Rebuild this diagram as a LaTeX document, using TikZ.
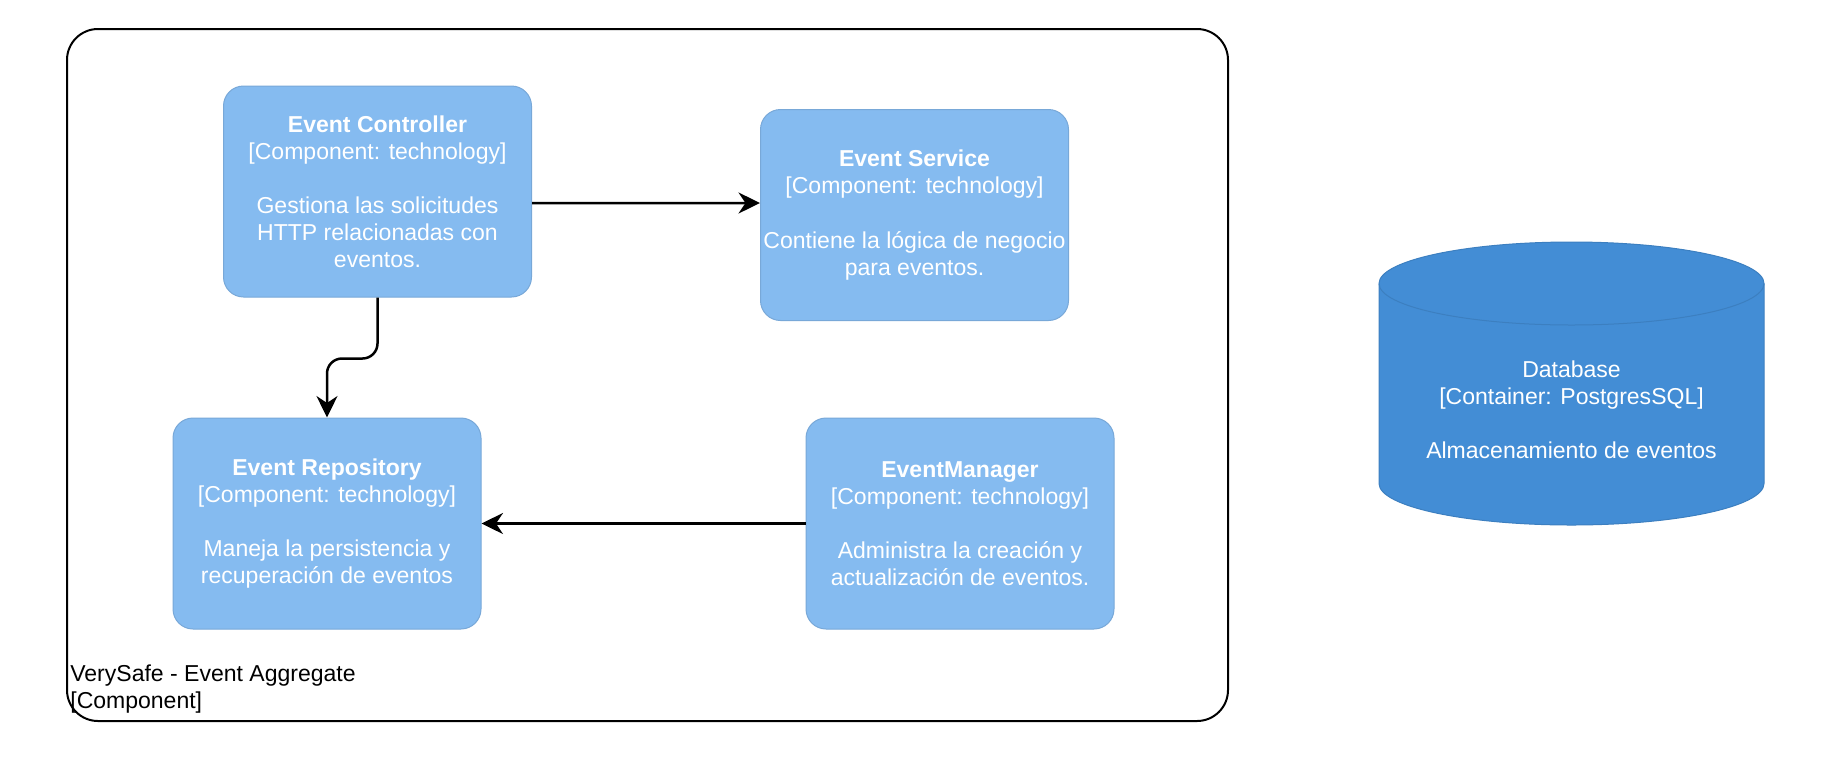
\documentclass[tikz,border=0pt]{standalone}
\usepackage{fontspec}
\setmainfont{Liberation Sans}
\usetikzlibrary{positioning, shapes.geometric, arrows.meta}

\begin{document}
\begin{tikzpicture}[
    >={Stealth[length=0.43cm, width=0.42cm, inset=0.14cm]}, % Puntas de flecha
    % --- Colores del tema C4 ---
    compFill/.style={fill={rgb,255:red,133;green,187;blue,240}, draw={rgb,255:red,120;green,168;blue,216}},
    contFill/.style={fill={rgb,255:red,67;green,141;blue,213}, draw={rgb,255:red,60;green,127;blue,192}},
    % --- Estilos de nodos ---
    base/.style={line width=0.02cm, align=center, inner sep=0pt, text=white, font=\fontsize{13.1pt}{15.4pt}\selectfont},
    component/.style={base, compFill, rounded corners=0.4cm, minimum width=6.16cm, minimum height=4.22cm},
    dbText/.style={align=center, inner sep=0pt, text=white, font=\fontsize{13.1pt}{15.4pt}\selectfont},
    dbShape/.style={contFill, line width=0.02cm},
    boundary/.style={draw=black, line width=0.04cm, rounded corners=0.62cm, minimum width=23.22cm, minimum height=13.84cm, inner sep=0pt},
    boundaryLabel/.style={align=left, inner sep=0pt, text=black, font=\fontsize{13.1pt}{15.4pt}\selectfont},
    % --- Estilo de conectores ---
    rel/.style={->, line width=0.05cm, draw=black}
]
    \useasboundingbox (0,0) rectangle (36.96,-15.38);

    % ===========================
    % 1. LIMITE DEL AGREGADO
    % ===========================
    \node[boundary] (agg) at (12.95, -7.5) {};
    \node[boundaryLabel, anchor=south west] (aggLabel) at ([xshift=0.08cm, yshift=0.16cm]agg.south west) {VerySafe - Event Aggregate\\{}[Component]};

    % ===========================
    % 2. COMPONENTES
    % ===========================
    \node[component] (ctrl) at (7.55, -3.83)  {\textbf{Event Controller}\\{}[Component: technology]\\[15.4pt]Gestiona las solicitudes\\HTTP relacionadas con\\eventos.};
    \node[component] (svc)  at (18.29, -4.30) {\textbf{Event Service}\\{}[Component: technology]\\[15.4pt]Contiene la lógica de negocio\\para eventos.};
    \node[component] (repo) at (6.54, -10.47) {\textbf{Event Repository}\\{}[Component: technology]\\[15.4pt]Maneja la persistencia y\\recuperación de eventos};
    \node[component] (mgr)  at (19.20, -10.47) {\textbf{EventManager}\\{}[Component: technology]\\[15.4pt]Administra la creación y\\actualización de eventos.};

    % ===========================
    % 3. BASE DE DATOS (cilindro)
    % ===========================
    \coordinate (dbTop) at (31.43, -5.67);
    \coordinate (dbBottom) at (31.43, -9.67);
    \draw[dbShape] ([xshift=-3.85cm]dbTop) arc[start angle=180, end angle=0, x radius=3.85, y radius=0.83]
        -- ([xshift=3.85cm]dbBottom) arc[start angle=0, end angle=-180, x radius=3.85, y radius=0.83] -- cycle;
    \draw[dbShape, fill=none] ([xshift=-3.85cm]dbTop) arc[start angle=180, end angle=360, x radius=3.85, y radius=0.83];
    \node[dbText] (db) at (31.43, -8.2) {Database\\{}[Container: PostgresSQL]\\[15.4pt]Almacenamiento de eventos};

    % ===========================
    % 4. RELACIONES
    % ===========================
    % Controller -> Service
    \draw[rel] ([yshift=-0.23cm]ctrl.east) -- ([yshift=0.24cm]svc.west);
    % Controller -> Repository
    \draw[rel, rounded corners=0.3cm] (ctrl.south) -- ++(0,-1.22) -| (repo.north);
    % Manager -> Repository
    \draw[rel] (mgr.west) -- (repo.east);

\end{tikzpicture}
\end{document}
